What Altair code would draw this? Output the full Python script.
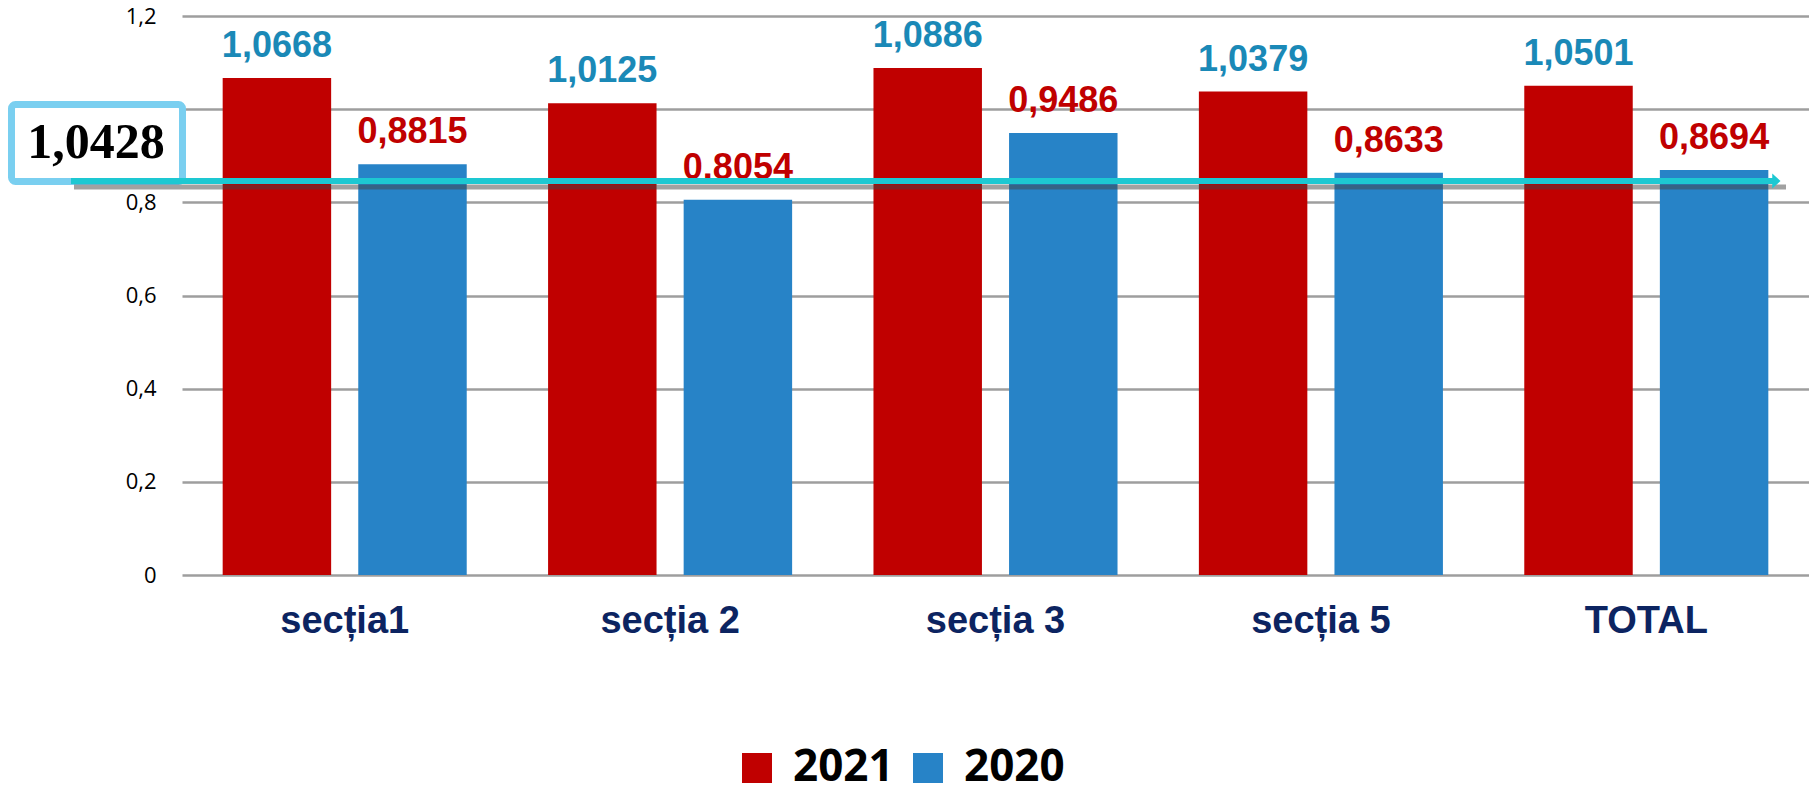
import altair as alt
import pandas as pd

categories = ["secția1", "secția 2", "secția 3", "secția 5", "TOTAL"]
years = ["2021", "2020"]
values_2021 = [1.0668, 1.0125, 1.0886, 1.0379, 1.0501]
values_2020 = [0.8815, 0.8054, 0.9486, 0.8633, 0.8694]
labels_2021 = ["1,0668", "1,0125", "1,0886", "1,0379", "1,0501"]
labels_2020 = ["0,8815", "0.8054", "0,9486", "0,8633", "0,8694"]
y_ticks = [0, 0.2, 0.4, 0.6, 0.8, 1, 1.2]
note_text = ["1,0428"]

rows = []
for c, v, l in zip(categories, values_2021, labels_2021):
    rows.append({"cat": c, "year": "2021", "value": v, "label": l})
for c, v, l in zip(categories, values_2020, labels_2020):
    rows.append({"cat": c, "year": "2020", "value": v, "label": l})
df = pd.DataFrame(rows)
annot = pd.DataFrame({"note": note_text})

RED = "#C00000"
BLUE = "#2783C7"
LABEL_BLUE = "#1A89B7"
NAVY = "#0C2461"
TEAL = "#1DC8D2"
BOX = "#7ACFF0"

W, H = 1627, 559

x = alt.X("cat:N", sort=categories, title=None,
          scale=alt.Scale(paddingInner=0.25, paddingOuter=0.125))
xo = alt.XOffset("year:N", sort=years,
                 scale=alt.Scale(domain=years, paddingInner=0.2, paddingOuter=0))
y = alt.Y("value:Q", title=None, scale=alt.Scale(domain=[0, 1.2]),
          axis=alt.Axis(values=y_ticks, labelExpr="replace(toString(datum.value), '.', ',')"))

bars = alt.Chart(df).mark_bar().encode(
    x=x, xOffset=xo, y=y,
    color=alt.Color("year:N", sort=years,
                    scale=alt.Scale(domain=years, range=[RED, BLUE]),
                    legend=alt.Legend(title=None, orient="none", legendX=553, legendY=730,
                                      direction="horizontal", symbolType="square",
                                      symbolSize=900, symbolStrokeWidth=0,
                                      labelFont="Open Sans", labelFontWeight="bold",
                                      labelFontSize=44, labelColor="black",
                                      labelOffset=14, columnPadding=12, padding=0)),
)

lab21 = alt.Chart(df).transform_filter(alt.datum.year == "2021").mark_text(
    font="Liberation Sans", fontWeight="bold", fontSize=36, color=LABEL_BLUE,
    baseline="alphabetic", dy=-21,
).encode(x=x, xOffset=xo, y=y, text="label:N")

lab20 = alt.Chart(df).transform_filter(alt.datum.year == "2020").mark_text(
    font="Liberation Sans", fontWeight="bold", fontSize=36, color=RED,
    baseline="alphabetic", dy=-21,
).encode(x=x, xOffset=xo, y=y, text="label:N")

box = alt.Chart(annot).mark_rect(
    fill="white", stroke=BOX, strokeWidth=7, cornerRadius=4,
).encode(x=alt.value(-170.5), x2=alt.value(0.5), y=alt.value(88.5), y2=alt.value(165.5))

box_text = alt.Chart(annot).mark_text(
    font="Liberation Serif", fontWeight="bold", fontSize=50, color="black",
    align="center", baseline="middle",
).encode(x=alt.value(-86), y=alt.value(127), text="note:N")

shadow = alt.Chart(annot).mark_rule(
    color="#444444", opacity=0.5, strokeWidth=5,
).encode(x=alt.value(-108), x2=alt.value(1604), y=alt.value(171))

arrow = alt.Chart(annot).mark_rule(
    color=TEAL, strokeWidth=6,
).encode(x=alt.value(-111), x2=alt.value(1592), y=alt.value(165))

head = alt.Chart(annot).mark_point(
    shape="M -0.5 -1 L 0.6 0 L -0.5 1 Z", filled=True, color=TEAL, opacity=1, size=225,
).encode(x=alt.value(1594), y=alt.value(165))

chart = alt.layer(bars, lab21, lab20, box, box_text, shadow, arrow, head).properties(
    width=W, height=H, padding={"left": 0, "top": -3, "right": 0, "bottom": 0},
    background="white",
).configure_view(stroke=None).configure_axisX(
    domain=False, ticks=False, grid=False, labelAngle=0,
    labelFont="Liberation Sans", labelFontWeight="bold", labelFontSize=38,
    labelColor=NAVY, labelPadding=27,
).configure_axisY(
    domain=False, ticks=False, grid=True, gridColor="#9E9E9E", gridWidth=2.5,
    labelFont="Open Sans", labelFontSize=22, labelColor="black", labelPadding=26,
)

chart.save("out.html", embed_options={"renderer": "svg", "actions": False})
